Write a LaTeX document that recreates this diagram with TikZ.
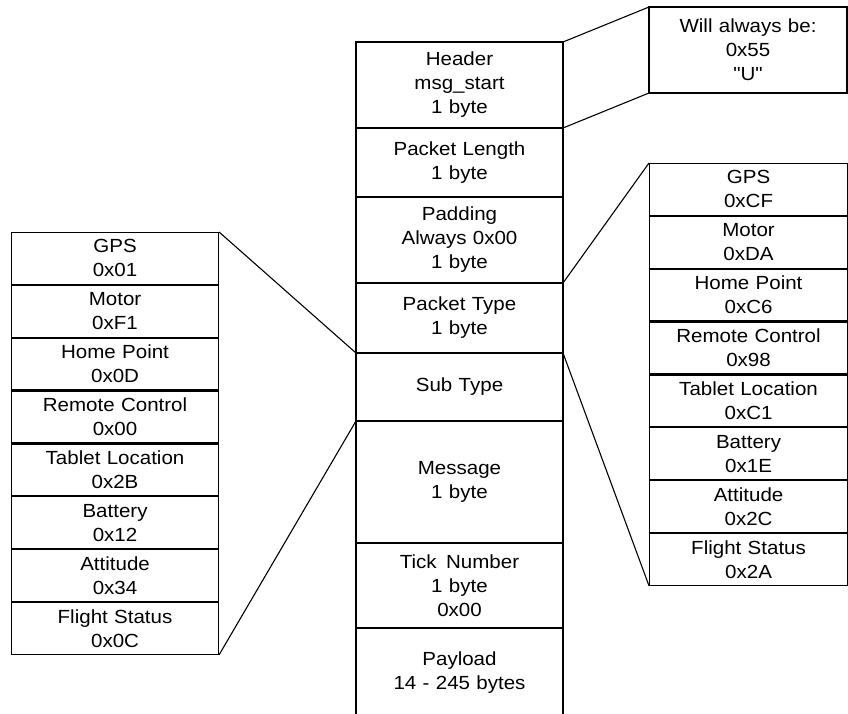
\documentclass[tikz,border=0pt]{standalone}
\usepackage{fontspec}
\setmainfont{Liberation Sans}[FakeStretch=1.08]
\newfontfamily\straightquotes{Liberation Sans}[FakeStretch=1.08]
\usetikzlibrary{positioning}
\usetikzlibrary{matrix}

\begin{document}
\begin{tikzpicture}[x=1pt,y=-1pt,line width=1.1pt,
  field/.style={draw,inner sep=0pt,outer sep=0pt,minimum width=207pt,
    text width=198pt,align=center,font=\fontsize{19}{24}\selectfont},
  cell/.style={draw,inner sep=0pt,outer sep=0pt,minimum width=#1,
    minimum height=51.75pt,text width=#1-8pt,align=center,
    font=\fontsize{19}{24}\selectfont}]
\clip (0,0) rectangle (848,713);
% packet fields
\node[field,minimum height=86pt,anchor=north west] (header) at (356,42) {Header\\msg\_start\\1 byte};
\node[field,minimum height=69pt,below=0pt of header] (length) {Packet Length\\1 byte};
\node[field,minimum height=86pt,below=0pt of length] (padding) {Padding\\Always 0x00\\1 byte};
\node[field,minimum height=70pt,below=0pt of padding] (ptype) {Packet Type\\1 byte};
\node[field,minimum height=68pt,below=0pt of ptype] (subtype) {Sub Type};
\node[field,minimum height=122pt,below=0pt of subtype] (message) {Message\\1 byte};
\node[field,minimum height=85pt,below=0pt of message] (tick) {Tick\enspace Number\\1 byte\\0x00};
\node[field,draw=none,minimum height=90pt,below=0pt of tick] (payload) {Payload\\14 - 245 bytes};
\draw (payload.north west) -- ([yshift=-10pt]payload.south west);
\draw (payload.north east) -- ([yshift=-10pt]payload.south east);
% header note
\node[field,minimum width=198pt,text width=190pt,minimum height=86pt,anchor=north west] (always) at (649,7) {Will always be:\\0x55\\{\straightquotes "U"}};
% sub types
\matrix[matrix of nodes,inner sep=0pt,outer sep=0pt,row sep=0pt,anchor=north west,
  nodes={cell=207pt}] (leftlist) at (11,232) {
 {GPS\\0x01} \\
 {Motor\\0xF1} \\
 {Home Point\\0x0D} \\
 {Remote Control\\0x00} \\
 {Tablet Location\\0x2B} \\
 {Battery\\0x12} \\
 {Attitude\\0x34} \\
 {Flight Status\\0x0C} \\
};
% packet types
\matrix[matrix of nodes,inner sep=0pt,outer sep=0pt,row sep=0pt,anchor=north west,
  nodes={cell=198pt}] (rightlist) at (649,163) {
 {GPS\\0xCF} \\
 {Motor\\0xDA} \\
 {Home Point\\0xC6} \\
 {Remote Control\\0x98} \\
 {Tablet Location\\0xC1} \\
 {Battery\\0x1E} \\
 {Attitude\\0x2C} \\
 {Flight Status\\0x2A} \\
};
\draw (header.north east) -- (always.north west);
\draw (header.south east) -- (always.south west);
\draw (ptype.north east) -- (rightlist.north west);
\draw (subtype.north east) -- (rightlist.south west);
\draw (leftlist.north east) -- (subtype.north west);
\draw (leftlist.south east) -- (subtype.south west);
\end{tikzpicture}
\end{document}
